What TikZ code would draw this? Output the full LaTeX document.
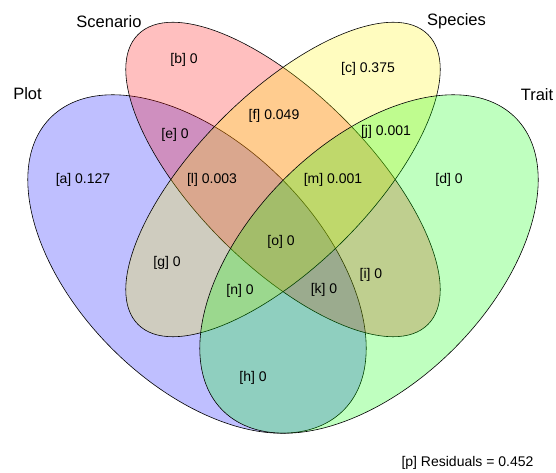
\documentclass[tikz,border=0pt]{standalone}
\usepackage{fontspec}
\setmainfont{Liberation Sans}
\begin{document}
\begin{tikzpicture}[x=1pt,y=1pt,
  setshape/.style={draw=black, line width=0.6pt, fill opacity=0.25},
  setname/.style={inner sep=0pt, font=\fontsize{16.5}{19}\selectfont},
  part/.style={inner sep=0pt, font=\fontsize{14}{16}\selectfont}]
\useasboundingbox (0,0) rectangle (556,473);
% ellipses: Plot, Scenario, Species, Trait
\path[setshape, fill=blue]   [rotate around={-45:(197,209)}] (197,209) ellipse [x radius=207pt, y radius=120pt];
\path[setshape, fill=red]    [rotate around={-45:(283,293.5)}] (283,293.5) ellipse [x radius=205pt, y radius=86pt];
\path[setshape, fill=yellow] [rotate around={45:(283,293.5)}] (283,293.5) ellipse [x radius=205pt, y radius=86pt];
\path[setshape, fill=green]  [rotate around={45:(369,209)}] (369,209) ellipse [x radius=207pt, y radius=120pt];
% set names
\node[setname] (nplot) at (27.5,379) {Plot};
\node[setname] (nscen) at (109,451) {Scenario};
\node[setname] (nspec) at (456.5,452) {Species};
\node[setname] (ntrait) at (537,378) {Trait};
% fractions
\node[part] (pa) at (83,293) {[a] 0.127};
\node[part] (pb) at (184,413) {[b] 0};
\node[part] (pc) at (368,404) {[c] 0.375};
\node[part] (pd) at (449,293) {[d] 0};
\node[part] (pe) at (175,338) {[e] 0};
\node[part] (pf) at (274,357) {[f] 0.049};
\node[part] (pg) at (167,210) {[g] 0};
\node[part] (ph) at (253,95) {[h] 0};
\node[part] (pi) at (371,198) {[i] 0};
\node[part] (pj) at (386,341) {[j] 0.001};
\node[part] (pk) at (324,183) {[k] 0};
\node[part] (pl) at (212,293) {[l] 0.003};
\node[part] (pm) at (333,293) {[m] 0.001};
\node[part] (pn) at (240,182) {[n] 0};
\node[part] (po) at (281,231) {[o] 0};
\node[part] (pp) at (467.5,10) {[p] Residuals = 0.452};
\end{tikzpicture}
\end{document}
